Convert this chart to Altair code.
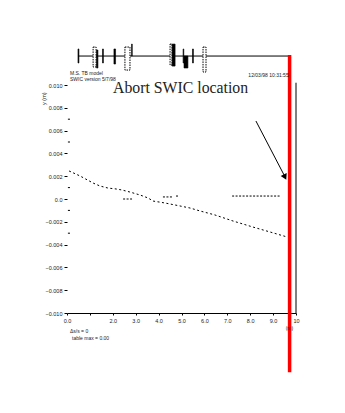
import altair as alt
import pandas as pd

# ---- data (beamline position s, vertical offset y) ----
main_s = [0.09, 0.57, 1.14, 1.44, 1.79, 2.14, 2.40, 2.75, 3.19, 3.54, 3.76, 4.28,
          4.93, 5.37, 5.81, 6.46, 7.25, 8.12, 8.86, 9.61]
main_y = [0.00246, 0.00202, 0.00140, 0.00114, 0.00096, 0.00088, 0.00079, 0.00061,
          0.00035, 0.00009, -0.00018, -0.00035, -0.00061, -0.00079, -0.00105,
          -0.00140, -0.00193, -0.00246, -0.00289, -0.00333]

seg_id = ["a", "a", "b", "b", "c", "c", "d", "d"]
seg_s = [2.45, 2.84, 4.19, 4.63, 4.76, 4.89, 7.21, 9.30]
seg_y = [0.0, 0.0, 0.00018, 0.00018, 0.00026, 0.00026, 0.00026, 0.00026]

# beamline element schematic
el_s1 = [0.48, 1.29, 1.55, 2.05, 2.82, 4.59, 5.07, 5.11, 5.48]
el_s2 = [0.52, 1.35, 1.59, 2.12, 2.85, 4.72, 5.10, 5.28, 5.52]
el_top = [0.01316, 0.01307, 0.01316, 0.01316, 0.01359, 0.01359, 0.01316, 0.01254, 0.01316]
el_bot = [0.01193, 0.01149, 0.01193, 0.01184, 0.01254, 0.01166, 0.01193, 0.01149, 0.01193]

box_s1 = [1.14, 2.53, 4.50, 5.94]
box_s2 = [1.27, 2.75, 4.59, 6.07]
box_top = [0.01333, 0.01333, 0.01359, 0.01333]
box_bot = [0.01158, 0.01131, 0.01175, 0.01114]

beamline_start, beamline_end, beamline_y = 0.48, 9.69, 0.01254
abort_s = 9.72

y_major = [0.010, 0.008, 0.006, 0.004, 0.002, 0.0, -0.002, -0.004, -0.006, -0.008, -0.010]
y_minor = [0.007, 0.005, 0.001, -0.001, -0.003]
x_ticks = [0, 1, 2, 3, 4, 5, 6, 7, 8, 9, 10]

main_df = pd.DataFrame({"s": main_s, "y": main_y})
seg_df = pd.DataFrame({"s": seg_s, "y": seg_y, "id": seg_id})
el_df = pd.DataFrame({"s": el_s1, "s2": el_s2, "y": el_top, "y2": el_bot})
box_df = pd.DataFrame({"s": box_s1, "s2": box_s2, "y": box_top, "y2": box_bot})
minor_df = pd.DataFrame({"y": y_minor})

xs = alt.Scale(domain=[0, 10], nice=False, zero=False)
ys = alt.Scale(domain=[-0.01, 0.01], nice=False, zero=False)

FONT = "Liberation Sans"

x_axis = alt.Axis(values=x_ticks, tickCount=11, title=None, grid=False, domainColor="black",
                  tickColor="black", tickSize=2, labelFontSize=5.5, labelColor="#222",
                  labelFont=FONT, labelPadding=3, labelOverlap=False, labelAngle=0,
                  labelExpr="datum.value == 0 ? '0.0' : datum.value == 1 ? '' : datum.value == 10 ? '10' : format(datum.value, '.1f')")
y_axis = alt.Axis(values=y_major, tickCount=11, title=None, grid=False, domain=False,
                  tickColor="black", tickSize=3, labelFontSize=5.5, labelColor="#222",
                  labelFont=FONT, labelPadding=2, labelOverlap=False,
                  labelExpr="datum.value == 0 ? '0.0' : format(datum.value, '.3f')")

main_line = alt.Chart(main_df).mark_line(color="black", strokeWidth=1, strokeDash=[2, 2.5]).encode(
    x=alt.X("s:Q", scale=xs, axis=x_axis),
    y=alt.Y("y:Q", scale=ys, axis=y_axis),
)

segs = alt.Chart(seg_df).mark_line(color="black", strokeWidth=1, strokeDash=[2, 1.5]).encode(
    x="s:Q", y="y:Q", detail="id:N"
)

minor = alt.Chart(minor_df).mark_rule(color="black", strokeWidth=1).encode(
    x=alt.datum(0.04), x2=alt.datum(0.13), y="y:Q"
)

right_frame = alt.Chart(pd.DataFrame({"s": [10]})).mark_rule(color="black", strokeWidth=1).encode(
    x="s:Q", y=alt.datum(-0.01), y2=alt.datum(0.0102)
)

beamline = alt.Chart(pd.DataFrame({"s": [beamline_start], "s2": [beamline_end], "y": [beamline_y]})).mark_rule(
    color="black", strokeWidth=1).encode(x="s:Q", x2="s2:Q", y="y:Q")

elements = alt.Chart(el_df).mark_rect(color="black", stroke="black", strokeWidth=0.6).encode(
    x="s:Q", x2="s2:Q", y="y:Q", y2="y2:Q"
)

boxes = alt.Chart(box_df).mark_rect(fill="white", stroke="black", strokeWidth=1, strokeDash=[1.5, 1]).encode(
    x="s:Q", x2="s2:Q", y="y:Q", y2="y2:Q"
)

red = alt.Chart(pd.DataFrame({"s": [abort_s]})).mark_rule(color="#ff0000", strokeWidth=3.5).encode(
    x="s:Q", y=alt.datum(-0.0152), y2=alt.datum(0.01263)
)

label = alt.Chart(pd.DataFrame({"t": ["Abort SWIC location"]})).mark_text(
    font="Liberation Serif", fontSize=15.8, align="left", baseline="alphabetic", color="#222"
).encode(x=alt.datum(2.01), y=alt.datum(0.0093), text="t:N")

arrow = alt.Chart(pd.DataFrame({"s": [8.25], "s2": [9.48]})).mark_rule(color="black", strokeWidth=1).encode(
    x="s:Q", x2="s2:Q", y=alt.datum(0.00684), y2=alt.datum(0.0021)
)
arrow_head = alt.Chart(pd.DataFrame({"s": [9.50]})).mark_point(
    shape="triangle", filled=True, color="black", size=45, angle=153, opacity=1
).encode(x="s:Q", y=alt.datum(0.0020))


def small(txt, sx, sy, size=5, align="left", angle=0):
    return alt.Chart(pd.DataFrame({"t": [txt]})).mark_text(
        font=FONT, fontSize=size, align=align, baseline="alphabetic", color="#222", angle=angle
    ).encode(x=alt.datum(sx), y=alt.datum(sy), text="t:N")


texts = [
    small("M.S. TB model", 0.13, 0.01087),
    small("SWIC version 5/7/98", 0.13, 0.01035),
    small("12/03/98  10:31:55", 7.92, 0.01070),
    small("Δs/s = 0", 0.13, -0.01175),
    small("table max = 0.00", 0.22, -0.01240),
    small("(m)", 9.55, -0.01150),
    small("y (m)", -0.92, 0.0088, size=5.5, align="center", angle=270),
]

chart = alt.layer(
    main_line, segs, minor, right_frame, beamline, boxes, elements, red,
    label, arrow, arrow_head, *texts
).properties(
    width=229, height=228,
    autosize=alt.AutoSizeParams(type="none"),
    padding={"left": 67, "top": 85, "right": 49, "bottom": 100},
    background="white",
).configure_view(stroke=None).configure_axis(labelOverlap=False, labelFlush=False)

chart.save("out.html", embed_options={"renderer": "svg", "actions": False})
